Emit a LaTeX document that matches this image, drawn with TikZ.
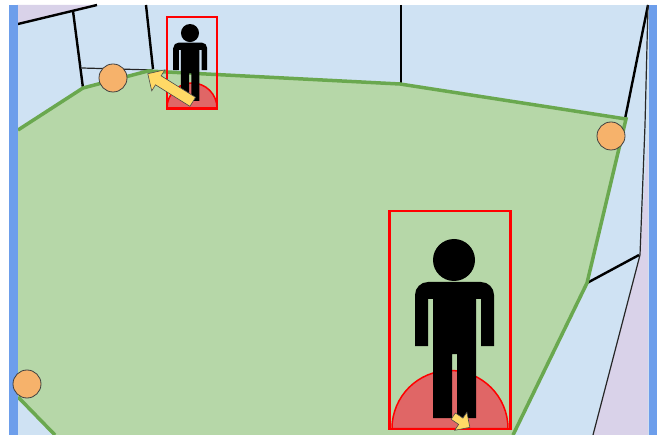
\documentclass[tikz,border=0pt]{standalone}
\usetikzlibrary{shapes.arrows}
\definecolor{roomBlue}{RGB}{207,226,243}
\definecolor{outsidePurple}{RGB}{217,210,233}
\definecolor{floorGreen}{RGB}{182,215,168}
\definecolor{edgeGreen}{RGB}{106,168,79}
\definecolor{barBlue}{RGB}{109,158,235}
\definecolor{camOrange}{RGB}{246,178,107}
\definecolor{viewRed}{RGB}{224,102,102}
\definecolor{dirYellow}{RGB}{255,217,102}
\tikzset{
    wall/.style={black, line width=2.4pt},
    thinwall/.style={black!85, line width=1.2pt},
    camera/.style={circle, draw=black!75, fill=camOrange, line width=0.8pt,
        minimum size=28pt, inner sep=0pt},
    personbox/.style={draw=red, line width=2.6pt},
    viewarc/.style={draw=red, fill=viewRed, line width=1.5pt},
    dirarrow/.style={single arrow, draw=black!70, fill=dirYellow, line width=0.6pt,
        inner sep=0pt, anchor=tail},
}

\begin{document}
\begin{tikzpicture}[x=1pt, y=-1pt]
\useasboundingbox (0,0) rectangle (658,435);

% Room background
\fill[roomBlue] (17,5) rectangle (649,435);
\fill[outsidePurple] (17,24) -- (97,5) -- (17,5) -- cycle;
\fill[outsidePurple] (648,135) -- (640,255) -- (593,435) -- (648,435) -- cycle;

% Walls
\draw[wall] (18,24) -- (97,5);
\draw[wall] (73,11) -- (83,88);
\draw[wall] (146,5) -- (153,69);
\draw[thinwall] (82,68) -- (153,70);
\draw[wall] (401,5) -- (401,84);
\draw[wall] (648,5) -- (625,119);
\draw[thinwall] (648,5) -- (645,125) -- (640,255) -- (593,435);
\draw[wall] (587,283) -- (639,255);

% Floor
\fill[floorGreen] (18,130) -- (83,88) -- (148,71) -- (400,84) -- (626,119)
    -- (587,283) -- (513,435) -- (55,435) -- (18,397) -- cycle;
\draw[edgeGreen, line width=3.5pt] (55,435) -- (18,397);
\draw[edgeGreen, line width=3.5pt] (18,130) -- (83,88) -- (148,71) -- (400,84) -- (626,119)
    -- (587,283) -- (513,435);

% Side bars
\fill[barBlue] (9,5) rectangle (17.5,435);
\fill[barBlue] (648.5,5) rectangle (657,435);

% Cameras
\node[camera] (cam1) at (113,78) {};
\node[camera] (cam2) at (611,136) {};
\node[camera] (cam3) at (27,384) {};

% People
\foreach \px/\py/\ps/\vx/\vy/\vr/\bx/\by/\bw/\bh in
    {190/101/0.43/192/108/25/167/17/50/92, 454/418/1/450/428.5/58/389.5/211/121/218}{
    \draw[viewarc] (\vx-\vr,\vy) arc[start angle=180, end angle=0, radius=\vr pt] -- cycle;
    \begin{scope}[shift={(\px,\py)}, scale=\ps]
        \fill[black] (0,-158) circle[radius=21pt];
        \fill[black] (-21,0) -- (-21,-119) -- (-26,-119) -- (-26,-72) -- (-39,-72)
            [rounded corners=13pt*\ps] -- (-39,-136) -- (40,-136) [sharp corners]
            -- (40,-72) -- (27,-72) -- (27,-119) -- (22,-119) -- (22,0) -- (3,0)
            -- (3,-64) -- (-2,-64) -- (-2,0) -- cycle;
    \end{scope}
    \draw[personbox] (\bx,\by) rectangle ++(\bw,\bh);
}

% Heading arrows
\node[dirarrow, rotate=148, minimum width=19pt, minimum height=53pt] (dir1) at (193,102) {\rule{0pt}{10pt}};
\node[dirarrow, rotate=-34, minimum width=13pt, minimum height=20pt] (dir2) at (453,416) {\rule{0pt}{7pt}};

\end{tikzpicture}
\end{document}
